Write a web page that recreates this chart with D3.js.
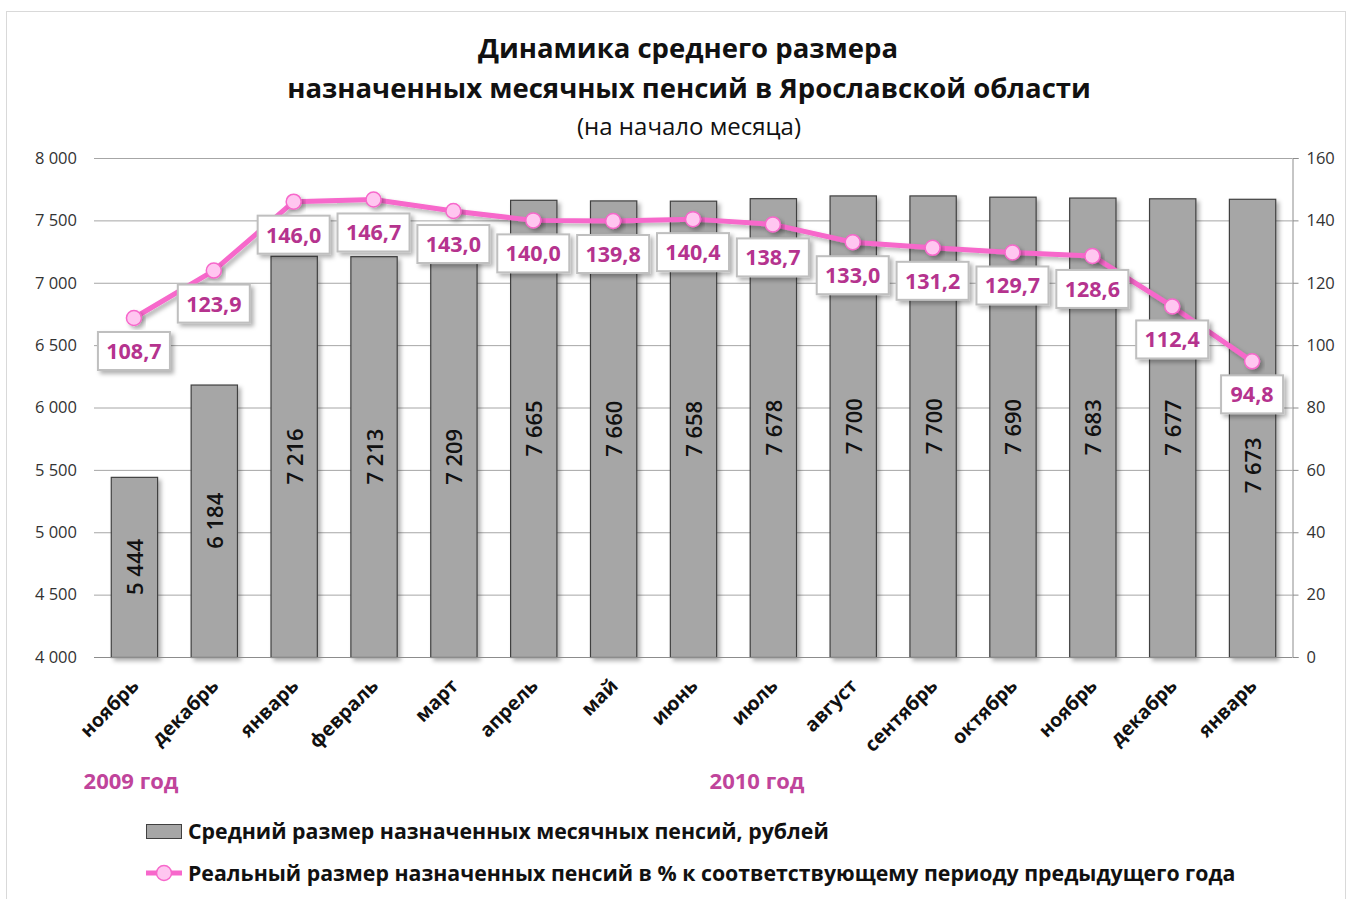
<!DOCTYPE html>
<html>
<head>
<meta charset="utf-8">
<script src="https://cdn.jsdelivr.net/npm/d3@7"></script>
<style>
  body { margin: 0; background: #fff; }
  svg { font-family: "Open Sans", "Noto Sans", sans-serif; }
</style>
</head>
<body>
<div id="chart"></div>
<script>
// months (Nov 2009 .. Jan 2011)
var months = ["ноябрь", "декабрь", "январь", "февраль", "март", "апрель", "май", "июнь",
  "июль", "август", "сентябрь", "октябрь", "ноябрь", "декабрь", "январь"];
// average assigned monthly pension, rubles
var pension = [5444, 6184, 7216, 7213, 7209, 7665, 7660, 7658, 7678, 7700, 7700, 7690, 7683, 7677, 7673];
// real pension, % to same period of previous year
var realPct = [108.7, 123.9, 146.0, 146.7, 143.0, 140.0, 139.8, 140.4, 138.7, 133.0, 131.2, 129.7, 128.6, 112.4, 94.8];
var leftTicks = [4000, 4500, 5000, 5500, 6000, 6500, 7000, 7500, 8000];
var rightTicks = [0, 20, 40, 60, 80, 100, 120, 140, 160];

var svgWidth = 1352, svgHeight = 899;
var margin = { top: 158, right: 60, bottom: 242, left: 94 };
var width = svgWidth - margin.left - margin.right;
var height = svgHeight - margin.top - margin.bottom;

var ru = d3.formatLocale({ decimal: ",", thousands: "\u00a0", grouping: [3], currency: ["", ""] });
var fmtInt = ru.format(",d");
var fmtPct = ru.format(".1f");

var svg = d3.select("#chart").append("svg")
  .attr("width", svgWidth)
  .attr("height", svgHeight);

var defs = svg.append("defs");
var sh = defs.append("filter").attr("id", "shadow")
  .attr("x", "-20%").attr("y", "-20%").attr("width", "150%").attr("height", "150%");
sh.append("feDropShadow").attr("dx", 3).attr("dy", 3).attr("stdDeviation", 2)
  .attr("flood-color", "#000").attr("flood-opacity", 0.3);

// outer frame
svg.append("rect")
  .attr("x", 6.5).attr("y", 11.5)
  .attr("width", 1339).attr("height", 900)
  .attr("fill", "none").attr("stroke", "#d9d9d9");

// title
var title = svg.append("text").attr("text-anchor", "middle").attr("fill", "#111");
title.append("tspan").attr("x", 688).attr("y", 58)
  .attr("font-size", 27.5).attr("font-weight", "bold").text("Динамика среднего размера");
title.append("tspan").attr("x", 689).attr("y", 98)
  .attr("font-size", 27.5).attr("font-weight", "bold").text("назначенных месячных пенсий в Ярославской области");
title.append("tspan").attr("x", 689).attr("y", 135)
  .attr("font-size", 24).text("(на начало месяца)");

var g = svg.append("g").attr("transform", `translate(${margin.left}, ${margin.top})`);

var x = d3.scaleBand().domain(d3.range(months.length)).range([0, width])
  .paddingInner(0.42).paddingOuter(0.21);
var yLeft = d3.scaleLinear().domain([4000, 8000]).range([height, 0]);
var yRight = d3.scaleLinear().domain([0, 160]).range([height, 0]);

// gridlines
g.append("g").selectAll("line").data(leftTicks).enter().append("line")
  .attr("x1", 0).attr("x2", width)
  .attr("y1", d => yLeft(d) + 0.5).attr("y2", d => yLeft(d) + 0.5)
  .attr("stroke", "#a6a6a6").attr("stroke-width", 1);

// left axis
var leftAxis = g.append("g")
  .call(d3.axisLeft(yLeft).tickValues(leftTicks).tickSize(0).tickPadding(17).tickFormat(fmtInt));
leftAxis.select(".domain").remove();
leftAxis.selectAll("text").attr("font-size", 16.5).attr("fill", "#333")
  .attr("font-family", "'Open Sans', sans-serif");

// right axis
var rightAxis = g.append("g").attr("transform", `translate(${width + 0.5}, 0)`)
  .call(d3.axisRight(yRight).tickValues(rightTicks).tickSize(6).tickPadding(8));
rightAxis.select(".domain").attr("stroke", "#8c8c8c");
rightAxis.selectAll(".tick line").attr("stroke", "#8c8c8c");
rightAxis.selectAll("text").attr("font-size", 16.5).attr("fill", "#333")
  .attr("font-family", "'Open Sans', sans-serif");

// bars
g.append("g").selectAll("rect").data(pension).enter().append("rect")
  .attr("x", (d, i) => x(i) + 0.5)
  .attr("y", d => yLeft(d) + 0.5)
  .attr("width", x.bandwidth())
  .attr("height", d => height - yLeft(d))
  .attr("fill", "#a6a6a6")
  .attr("stroke", "#404040")
  .attr("stroke-width", 1.2)
  .attr("filter", "url(#shadow)");

// bar value labels: centred in the bar, but pushed below the % box when they would collide
var barLabelY = (d, i) => {
  var mid = (yLeft(d) + height) / 2;
  var boxBottom = yRight(realPct[i]) + 33 + 19;
  return Math.max(mid, boxBottom + 52);
};
g.append("g").selectAll("text").data(pension).enter().append("text")
  .attr("transform", (d, i) => `translate(${x(i) + x.bandwidth() / 2 + 9}, ${barLabelY(d, i)}) rotate(-90)`)
  .attr("text-anchor", "middle")
  .attr("font-size", 22)
  .attr("font-weight", 600)
  .attr("fill", "#111")
  .text(d => fmtInt(d));

// bottom axis line
g.append("line")
  .attr("x1", 0).attr("x2", width)
  .attr("y1", height + 0.5).attr("y2", height + 0.5)
  .attr("stroke", "#8c8c8c");

// month labels
g.append("g").selectAll("text").data(months).enter().append("text")
  .attr("transform", (d, i) => `translate(${x(i) + x.bandwidth() / 2 + 6}, ${height + 30}) rotate(-45)`)
  .attr("text-anchor", "end")
  .attr("font-size", 19.5)
  .attr("font-weight", "bold")
  .attr("fill", "#111")
  .text(d => d);

// year labels
svg.append("text").attr("x", 131).attr("y", 789).attr("text-anchor", "middle")
  .attr("font-size", 22).attr("font-weight", "bold").attr("fill", "#c0449b").text("2009 год");
svg.append("text").attr("x", 757).attr("y", 789).attr("text-anchor", "middle")
  .attr("font-size", 22).attr("font-weight", "bold").attr("fill", "#c0449b").text("2010 год");

// line series
var cx = i => x(i) + x.bandwidth() / 2;
var line = d3.line().x((d, i) => cx(i)).y(d => yRight(d));
g.append("path").datum(realPct)
  .attr("d", line)
  .attr("fill", "none")
  .attr("stroke", "#f767cb")
  .attr("stroke-width", 5)
  .attr("stroke-linejoin", "round")
  .attr("filter", "url(#shadow)");
g.append("g").selectAll("circle").data(realPct).enter().append("circle")
  .attr("cx", (d, i) => cx(i))
  .attr("cy", d => yRight(d))
  .attr("r", 7.5)
  .attr("fill", "#ffc6f0")
  .attr("stroke", "#f767cb")
  .attr("stroke-width", 1.5)
  .attr("filter", "url(#shadow)");

// line value labels in boxes
var lbl = g.append("g").selectAll("g").data(realPct).enter().append("g")
  .attr("transform", (d, i) => `translate(${cx(i)}, ${yRight(d) + 33})`);
lbl.append("rect")
  .attr("x", d => d < 100 ? -31 : -36).attr("y", -19)
  .attr("width", d => d < 100 ? 62 : 72).attr("height", 38)
  .attr("fill", "#fff")
  .attr("stroke", "#bfbfbf")
  .attr("stroke-width", 2)
  .attr("filter", "url(#shadow)");
lbl.append("text")
  .attr("text-anchor", "middle")
  .attr("y", 8)
  .attr("font-size", 21.5)
  .attr("font-weight", "bold")
  .attr("fill", "#b5338e")
  .text(d => fmtPct(d));

// legend
var lg = svg.append("g");
lg.append("rect").attr("x", 146.5).attr("y", 824.5).attr("width", 35).attr("height", 14)
  .attr("fill", "#a6a6a6").attr("stroke", "#404040");
lg.append("text").attr("x", 188).attr("y", 839).attr("font-size", 21.3).attr("font-weight", "bold")
  .attr("fill", "#111").text("Средний размер назначенных месячных пенсий, рублей");
lg.append("line").attr("x1", 146).attr("x2", 182).attr("y1", 873).attr("y2", 873)
  .attr("stroke", "#f767cb").attr("stroke-width", 5);
lg.append("circle").attr("cx", 164).attr("cy", 873).attr("r", 7.5)
  .attr("fill", "#ffc6f0").attr("stroke", "#f767cb").attr("stroke-width", 1.5);
lg.append("text").attr("x", 188).attr("y", 881).attr("font-size", 21.3).attr("font-weight", "bold")
  .attr("fill", "#111").text("Реальный размер назначенных пенсий в % к соответствующему периоду предыдущего года");
</script>
</body>
</html>
